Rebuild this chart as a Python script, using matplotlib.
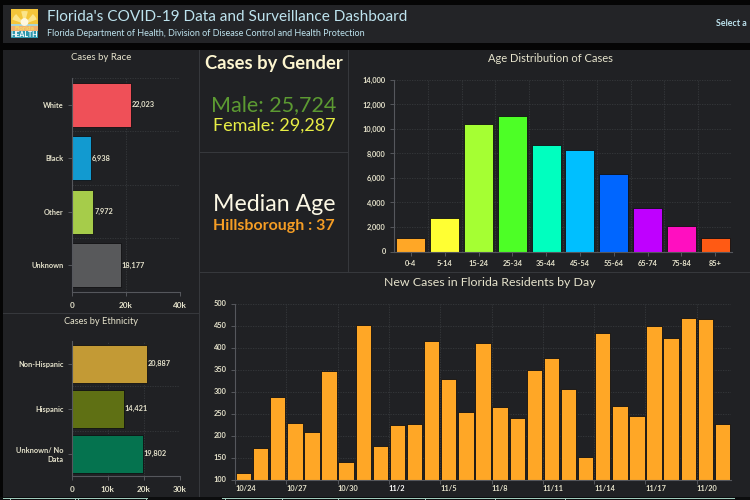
import matplotlib
matplotlib.use("Agg")
import matplotlib.pyplot as plt
from matplotlib.patches import Rectangle, Circle, Wedge

race_labels = ["White", "Black", "Other", "Unknown"]
race_values = [22023, 6938, 7972, 18177]
race_colors = ["#ef5058", "#129ad0", "#a6cc4a", "#58595b"]

eth_labels = ["Non-Hispanic", "Hispanic", "Unknown/ No\nData"]
eth_values = [20887, 14421, 19802]
eth_colors = ["#c39a35", "#5f7014", "#05734f"]

age_labels = ["0-4", "5-14", "15-24", "25-34", "35-44", "45-54", "55-64", "65-74", "75-84", "85+"]
age_values = [1140, 2720, 10400, 11080, 8660, 8280, 6290, 3570, 2100, 1140]
age_colors = ["#ffa726", "#ffff33", "#a5ff33", "#4dff26", "#00ffbf", "#00bfff", "#0066ff", "#bf00ff", "#ff0fc0", "#ff5a14"]

day_labels = ["10/24", "10/27", "10/30", "11/2", "11/5", "11/8", "11/11", "11/14", "11/17", "11/20"]
day_values = [114, 171, 288, 228, 208, 347, 140, 451, 176, 223, 226, 414, 329, 253, 411,
              264, 239, 348, 377, 305, 152, 433, 267, 244, 448, 422, 466, 464, 226]

W, H = 750, 500
BG = "#202124"
TXT = "#e6e3cc"
GRID = "#37393d"
AXLINE = "#55575c"
SEP = "#36383c"
TEAL = "#9fc9bb"
TICK_FS = 5.3

plt.rcParams["font.family"] = ["Lato", "DejaVu Sans"]

fig = plt.figure(figsize=(W / 100, H / 100), dpi=100, facecolor="#050505")


def ax_px(x0, y0, x1, y1):
    # pixel box, y measured from the top of the image
    return fig.add_axes([x0 / W, 1 - y1 / H, (x1 - x0) / W, (y1 - y0) / H])


def px_text(x, y, s, **kw):
    fig.text(x / W, 1 - y / H, s, va="center", **kw)


def px_rect(x0, y0, x1, y1, color, z=0):
    fig.add_artist(Rectangle((x0 / W, 1 - y1 / H), (x1 - x0) / W, (y1 - y0) / H,
                             transform=fig.transFigure, facecolor=color, edgecolor="none", zorder=z))


def style(ax):
    ax.set_facecolor("none")
    for s in ["top", "right"]:
        ax.spines[s].set_visible(False)
    for s in ["left", "bottom"]:
        ax.spines[s].set_color(AXLINE)
    ax.set_axisbelow(True)
    ax.tick_params(colors=TXT, color=AXLINE, labelsize=TICK_FS, length=3, width=0.7, pad=3)
    ax.tick_params(which="minor", length=0)


def set_grid(ax, which, axis):
    ax.grid(True, which=which, axis=axis, color=GRID, linestyle=(0, (1.5, 1.5)), linewidth=0.6)


def hbars(ax, labels, values, colors, ticks, ticklabels, xmax, height):
    style(ax)
    pos = list(range(len(values)))
    ax.barh(pos, values, height=height, color=colors, edgecolor="#101012", linewidth=0.6)
    ax.set_ylim(len(values) - 0.5, -0.5)
    ax.set_xlim(0, xmax)
    ax.set_yticks(pos)
    ax.set_yticks([p - 0.5 for p in pos] + [len(pos) - 0.5], minor=True)
    ax.set_yticklabels(labels, ha="right", linespacing=1.3, fontweight="bold")
    ax.set_xticks(ticks)
    ax.set_xticklabels(ticklabels, fontsize=5.9, fontweight="bold")
    ax.tick_params(axis="x", pad=4)
    set_grid(ax, "minor", "y")
    set_grid(ax, "major", "x")
    for p, v in zip(pos, values):
        ax.text(v + xmax * 0.008, p, f"{v:,}", color=TXT, fontsize=TICK_FS, va="center", ha="left", fontweight="bold")


# panels
px_rect(3, 4.5, 750, 43, "#232427")
px_rect(3, 50, 750, 497, BG)
px_rect(199, 50, 200, 497, SEP)
px_rect(348, 50, 349, 272, SEP)
px_rect(200, 152, 348, 153, SEP)
px_rect(200, 272, 750, 273, SEP)
px_rect(3, 313, 199, 314, SEP)
px_rect(0, 497, 750, 500, "#0c0d0e")
px_rect(3, 497.5, 148, 498.5, TEAL)
px_rect(222, 497.5, 735, 498.5, TEAL)
for nx in [10, 75, 78, 146, 225, 282, 338, 425, 495, 565]:
    px_rect(nx, 498.5, nx + 1, 500, TEAL)

# logo
px_rect(11, 9, 38, 38, "#f4c63a", 1)
fig.add_artist(Wedge((24.5, H - 24), 13, 20, 50, transform=None, facecolor="#fbe58a", edgecolor="none", zorder=1.5))
fig.add_artist(Wedge((24.5, H - 24), 13, 75, 105, transform=None, facecolor="#fbe58a", edgecolor="none", zorder=1.5))
fig.add_artist(Wedge((24.5, H - 24), 13, 130, 160, transform=None, facecolor="#fbe58a", edgecolor="none", zorder=1.5))
px_rect(11, 24, 38, 26, "#a9d5d6", 2)
px_rect(11, 26, 38, 31.5, "#f0b070", 2)
px_rect(11, 31.5, 38, 38, "#2f98ad", 2)
fig.add_artist(Circle((24.5, H - 22), 3.2, transform=None, color="#fff8e0", zorder=3))
px_text(24.5, 28.7, "Florida", color="#f8dd60", fontsize=4.6, ha="center", zorder=4, fontweight="bold")
px_text(24.5, 34.8, "HEALTH", color="#ffffff", fontsize=5.0, ha="center", zorder=4, fontweight="bold")

# header
px_text(47, 17, "Florida's COVID-19 Data and Surveillance Dashboard", color="#bde3ee", fontsize=11.1, ha="left")
px_text(47, 33, "Florida Department of Health, Division of Disease Control and Health Protection", color="#bde3ee", fontsize=6.5, ha="left")
px_text(716, 24, "Select a", color="#bde3ee", fontsize=6.4, ha="left", fontweight="bold")

# panel titles
px_text(101, 58, "Cases by Race", color=TXT, fontsize=6.9, ha="center")
px_text(101, 321, "Cases by Ethnicity", color=TXT, fontsize=6.7, ha="center")
px_text(550, 59, "Age Distribution of Cases", color=TXT, fontsize=8, ha="center")
px_text(490, 283, "New Cases in Florida Residents by Day", color=TXT, fontsize=8.9, ha="center")

# middle column
px_text(274, 63, "Cases by Gender", color="#fdf6d0", fontsize=13.2, ha="center", fontweight="bold")
px_text(274, 105, "Male: 25,724", color="#5c9a32", fontsize=15.5, ha="center")
px_text(274, 126, "Female: 29,287", color="#e8ee45", fontsize=13, ha="center")
px_text(274, 205, "Median Age", color="#fbf7e4", fontsize=16.7, ha="center")
px_text(274, 226, "Hillsborough : 37", color="#f59d24", fontsize=11.5, ha="center", fontweight="bold")

# cases by race
ax_race = ax_px(72, 78, 179.5, 292)
hbars(ax_race, race_labels, race_values, race_colors, [0, 20000, 40000], ["0", "20k", "40k"], 40000, 0.82)

# cases by ethnicity
ax_eth = ax_px(72, 341.5, 179.5, 476)
hbars(ax_eth, eth_labels, eth_values, eth_colors, [0, 10000, 20000, 30000], ["0", "10k", "20k", "30k"], 30000, 0.85)

# age distribution
ax_age = ax_px(394, 80, 732, 251.5)
style(ax_age)
ax_age.bar(range(len(age_values)), age_values, width=0.86, color=age_colors, edgecolor="#101012", linewidth=0.6)
ax_age.set_xlim(-0.5, len(age_values) - 0.5)
ax_age.set_ylim(0, 14000)
ax_age.set_yticks(range(0, 14001, 2000))
ax_age.set_yticklabels([f"{v:,}" for v in range(0, 14001, 2000)], fontweight="bold")
ax_age.set_xticks(range(len(age_values)))
ax_age.set_xticks([p - 0.5 for p in range(len(age_values) + 1)], minor=True)
ax_age.set_xticklabels(age_labels, fontweight="bold")
ax_age.tick_params(axis="x", pad=3)
set_grid(ax_age, "major", "y")
set_grid(ax_age, "minor", "x")

# new cases by day
ax_day = ax_px(235, 303.5, 731, 479.5)
style(ax_day)
ax_day.bar(range(len(day_values)), day_values, width=0.9, color="#ffa726", edgecolor="#101012", linewidth=0.6)
ax_day.set_xlim(-0.5, len(day_values) - 0.5)
ax_day.set_ylim(100, 500)
ax_day.set_yticks(range(100, 501, 50))
tick_pos = list(range(0, len(day_values), 3))
ax_day.set_xticks([p - 0.5 for p in tick_pos])
ax_day.set_xticklabels(day_labels, ha="left", fontweight="bold")
for lab in ax_day.get_yticklabels():
    lab.set_fontweight("bold")
for lab, name in zip(ax_day.get_xticklabels(), day_labels):
    if name == "11/2":
        lab.set_color("#ffffff")
ax_day.tick_params(axis="x", pad=1)
set_grid(ax_day, "major", "both")

fig.savefig("out.png", dpi=100, facecolor=fig.get_facecolor())
